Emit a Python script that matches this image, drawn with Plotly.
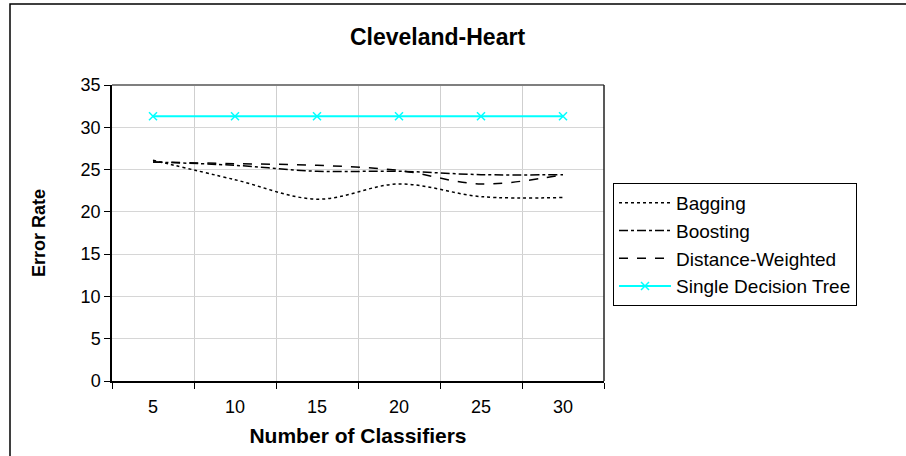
import plotly.graph_objects as go

# Error rate vs. ensemble size on the Cleveland-Heart data set
classifiers = ["5", "10", "15", "20", "25", "30"]
bagging = [26.1, 23.8, 21.5, 23.3, 21.8, 21.7]
boosting = [25.9, 25.5, 24.8, 24.8, 24.4, 24.4]
distance_weighted = [25.9, 25.7, 25.5, 24.9, 23.3, 24.4]
single_tree = [31.3, 31.3, 31.3, 31.3, 31.3, 31.3]

FONT = "Liberation Sans, Arial, sans-serif"

fig = go.Figure()
fig.add_trace(go.Scatter(x=classifiers, y=bagging, name="Bagging", mode="lines",
                         line=dict(color="black", width=1.5, dash="dot", shape="spline")))
fig.add_trace(go.Scatter(x=classifiers, y=boosting, name="Boosting", mode="lines",
                         line=dict(color="black", width=1.5, dash="dashdot", shape="spline")))
fig.add_trace(go.Scatter(x=classifiers, y=distance_weighted, name="Distance-Weighted", mode="lines",
                         line=dict(color="black", width=1.5, dash="dash", shape="spline")))
fig.add_trace(go.Scatter(x=classifiers, y=single_tree, name="Single Decision Tree", mode="lines+markers",
                         line=dict(color="#00FFFF", width=2),
                         marker=dict(symbol="x-thin", size=8, line=dict(color="#00FFFF", width=1.5))))

fig.update_layout(
    width=906, height=456,
    margin=dict(l=112, r=302, t=85, b=75),
    paper_bgcolor="white", plot_bgcolor="white",
    font=dict(family=FONT, color="black", size=18),
    title=dict(text="<b>Cleveland-Heart</b>", x=(348 + 527) / 2 / 906, xanchor="center",
               y=1 - 37 / 456, yanchor="middle", font=dict(size=23)),
    legend=dict(x=(613 - 112) / 492, xanchor="left", y=(381 - 183) / 296, yanchor="top",
                bgcolor="white", bordercolor="black", borderwidth=1,
                font=dict(size=19), tracegroupgap=0, itemwidth=52),
    showlegend=True,
)
fig.update_xaxes(
    type="category", range=[-0.5, 5.5], tickson="boundaries",
    showgrid=True, gridcolor="#cfcfcf", gridwidth=1,
    showline=True, linecolor="black", linewidth=1.5,
    ticks="outside", ticklen=6, tickcolor="black", ticklabelstandoff=9,
    title=dict(text="<b>Number of Classifiers</b>", font=dict(size=21), standoff=12),
)
fig.update_yaxes(
    range=[0, 35], dtick=5, tick0=0,
    showgrid=True, gridcolor="#d6d6d6", gridwidth=1,
    showline=True, linecolor="black", linewidth=1.5,
    ticks="outside", ticklen=6, tickcolor="black", zeroline=False,
    title=dict(text="<b>Error Rate</b>", font=dict(size=18), standoff=30),
)

# plot-area frame: grey top edge, dark right edge
fig.add_shape(type="line", xref="paper", yref="paper", x0=0, x1=1, y0=1, y1=1,
              line=dict(color="#7f7f7f", width=2))
fig.add_shape(type="line", xref="paper", yref="paper", x0=1, x1=1, y0=0, y1=1,
              line=dict(color="#222222", width=1.5))
# outer chart border
fig.add_shape(type="rect", xref="paper", yref="paper",
              x0=(10 - 112) / 492, x1=2.0, y0=-1.0, y1=(381 - 4) / 296,
              line=dict(color="black", width=1.5), layer="below")

fig.write_html("out.html")
